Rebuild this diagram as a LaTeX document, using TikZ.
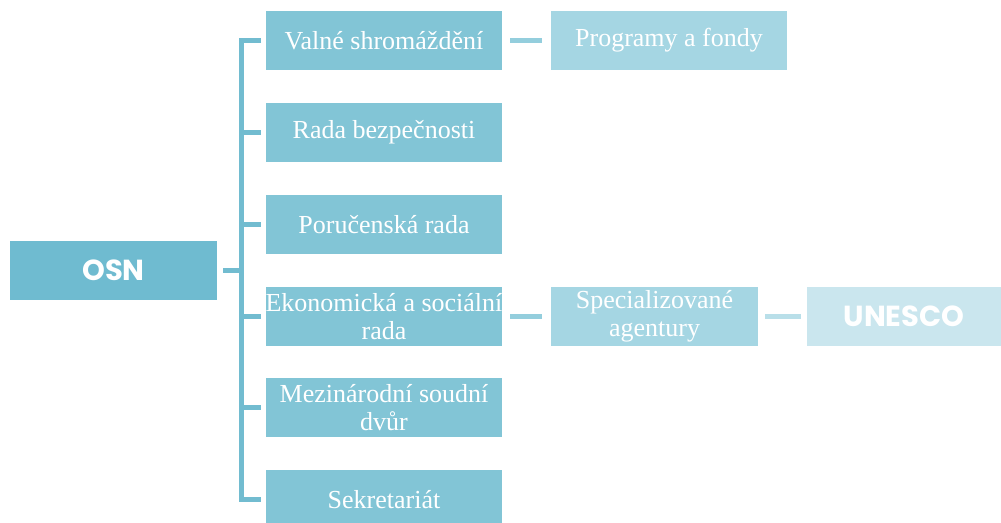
\documentclass[tikz,border=0pt]{standalone}
\usepackage{fontspec}
\setmainfont{Liberation Serif}
\newfontfamily\boldsans{Poppins}[UprightFont=* Bold]
\definecolor{cosn}{HTML}{6FBBD0}
\definecolor{clvl}{HTML}{82C5D6}
\definecolor{cprog}{HTML}{A5D6E3}
\definecolor{cuni}{HTML}{CAE6EE}
\definecolor{cline}{HTML}{72BCD0}
\definecolor{cline2}{HTML}{94CEDD}
\definecolor{cline3}{HTML}{B9DFE9}
\tikzset{
  box/.style={rectangle, inner sep=0pt, outer sep=0pt, text=white, align=center,
    font=\fontsize{26}{28.5}\selectfont},
  lvl/.style={box, fill=clvl, minimum width=236pt, minimum height=59pt},
  conn/.style={line width=5pt, line join=miter, line cap=butt},
}
\begin{document}
\begin{tikzpicture}[x=1pt,y=-1pt]
\useasboundingbox (0,0) rectangle (1001,522);
\node[box, fill=cosn, minimum width=207pt, minimum height=59pt, font=\boldsans\fontsize{29}{32}\selectfont] (osn) at (113.5,270.5) {OSN};
\node[lvl] (v1) at (384,40.5) {Valné shromáždění};
\node[lvl] (v2) at (384,132.5) {Rada bezpečnosti};
\node[lvl] (v3) at (384,224.5) {Poručenská rada};
\node[lvl] (v4) at (384,316.5) {Ekonomická a sociální\\rada};
\node[lvl] (v5) at (384,407.5) {Mezinárodní soudní\\dvůr};
\node[lvl] (v6) at (384,499.5) {Sekretariát};
\node[box, fill=cprog, minimum width=236pt, minimum height=59pt] (prog) at (669,40.5) {Programy a fondy};
\node[box, fill=cprog, minimum width=207pt, minimum height=59pt] (spec) at (654.5,316.5) {Specializované\\agentury};
\node[box, fill=cuni, minimum width=194pt, minimum height=59pt, font=\boldsans\fontsize{29}{32}\selectfont] (unesco) at (904,316.5) {UNESCO};
\coordinate (bar) at (241.5,270.5);
\draw[cline, conn] ([xshift=-5pt]v1.west) -| (bar) |- ([xshift=-5pt]v6.west);
\foreach \n in {v2,v3,v4,v5} \draw[cline, conn] (bar |- \n.west) -- ([xshift=-5pt]\n.west);
\draw[cline, conn] ([xshift=6pt]osn.east) -- (bar);
\draw[cline2, conn, shorten <=8pt, shorten >=9pt] (v1.east) -- (prog.west);
\draw[cline2, conn, shorten <=8pt, shorten >=9pt] (v4.east) -- (spec.west);
\draw[cline3, conn, shorten <=7pt, shorten >=6pt] (spec.east) -- (unesco.west);
\end{tikzpicture}
\end{document}
